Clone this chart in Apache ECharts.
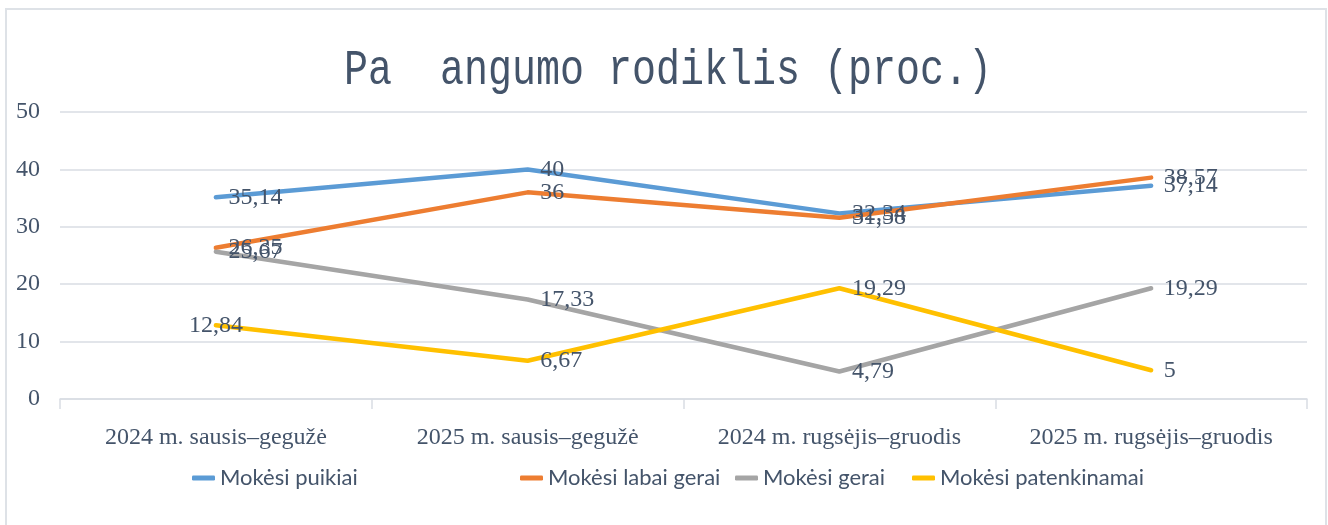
<!DOCTYPE html>
<html>
<head>
<meta charset="utf-8">
<script src="https://cdn.jsdelivr.net/npm/echarts@6/dist/echarts.min.js"></script>
<style>
html,body{margin:0;padding:0;background:#fff;}
#c{width:1328px;height:525px;}
</style>
</head>
<body>
<div id="c"></div>
<script>
var categories = ['2024 m. sausis–gegužė', '2025 m. sausis–gegužė', '2024 m. rugsėjis–gruodis', '2025 m. rugsėjis–gruodis'];
var seriesNames = ['Mokėsi puikiai', 'Mokėsi labai gerai', 'Mokėsi gerai', 'Mokėsi patenkinamai'];
var puikiai = [35.14, 40, 32.34, 37.14];
var labaiGerai = [26.35, 36, 31.58, 38.57];
var gerai = [25.67, 17.33, 4.79, 19.29];
var patenkinamai = [12.84, 6.67, 19.29, 5];
var yTicks = [0, 10, 20, 30, 40, 50];
var titleText = 'Pa  angumo rodiklis (proc.)';

var colors = ['#5B9BD5', '#ED7D31', '#A5A5A5', '#FFC000'];
var textColor = '#44546A';
var gridColor = '#D9DDE3';
var legendLefts = [192, 520, 735, 912];

function fmt(p) { return String(p.value).replace('.', ','); }

function mkSeries(name, data, color, idx) {
  var d = data.map(function (v, i) {
    if (idx === 3 && i === 0) {
      return { value: v, label: { position: 'inside' } };
    }
    return v;
  });
  return {
    name: name,
    type: 'line',
    data: d,
    symbol: 'circle',
    symbolSize: 1,
    itemStyle: { color: color },
    lineStyle: { color: color, width: 4.5, cap: 'round', join: 'round' },
    label: {
      show: true,
      position: 'right',
      distance: 12,
      formatter: fmt,
      color: textColor,
      fontFamily: 'Liberation Serif',
      fontSize: 24
    },
    emphasis: { disabled: true },
    animation: false
  };
}

var legendText = { color: textColor, fontFamily: 'Lato', fontSize: 22 };
var legends = seriesNames.map(function (n, i) {
  return {
    data: [n],
    left: legendLefts[i],
    top: 467,
    padding: 0,
    icon: 'roundRect',
    itemWidth: 23,
    itemHeight: 5,
    textStyle: legendText
  };
});

var chart = echarts.init(document.getElementById('c'), null, { renderer: 'canvas' });
chart.setOption({
  backgroundColor: '#ffffff',
  animation: false,
  color: colors,
  graphic: [
    {
      type: 'rect',
      shape: { x: 6, y: 9, width: 1320, height: 540 },
      style: { fill: 'none', stroke: '#DEE2E7', lineWidth: 2 },
      z: -1
    },
    {
      type: 'text',
      x: 668,
      y: 71,
      scaleX: 0.8,
      style: {
        text: titleText,
        fontFamily: 'Liberation Mono',
        fontSize: 50,
        fill: textColor,
        align: 'center',
        verticalAlign: 'middle'
      }
    }
  ],
  legend: legends,
  grid: { left: 60, right: 21, top: 112, bottom: 126 },
  xAxis: {
    type: 'category',
    data: categories,
    boundaryGap: true,
    axisLine: { show: true, lineStyle: { color: gridColor, width: 1.5 } },
    axisTick: { show: true, interval: 0, length: 10, lineStyle: { color: gridColor, width: 1.5 } },
    axisLabel: {
      interval: 0,
      hideOverlap: false,
      color: textColor,
      fontFamily: 'Liberation Serif',
      fontSize: 24,
      margin: 27
    }
  },
  yAxis: {
    type: 'value',
    min: yTicks[0],
    max: yTicks[yTicks.length - 1],
    interval: 10,
    axisLine: { show: false },
    axisTick: { show: false },
    splitLine: { lineStyle: { color: gridColor, width: 1.5 } },
    axisLabel: {
      color: textColor,
      fontFamily: 'Liberation Serif',
      fontSize: 24,
      margin: 20
    }
  },
  series: [
    mkSeries(seriesNames[0], puikiai, colors[0], 0),
    mkSeries(seriesNames[1], labaiGerai, colors[1], 1),
    mkSeries(seriesNames[2], gerai, colors[2], 2),
    mkSeries(seriesNames[3], patenkinamai, colors[3], 3)
  ]
});
</script>
</body>
</html>
